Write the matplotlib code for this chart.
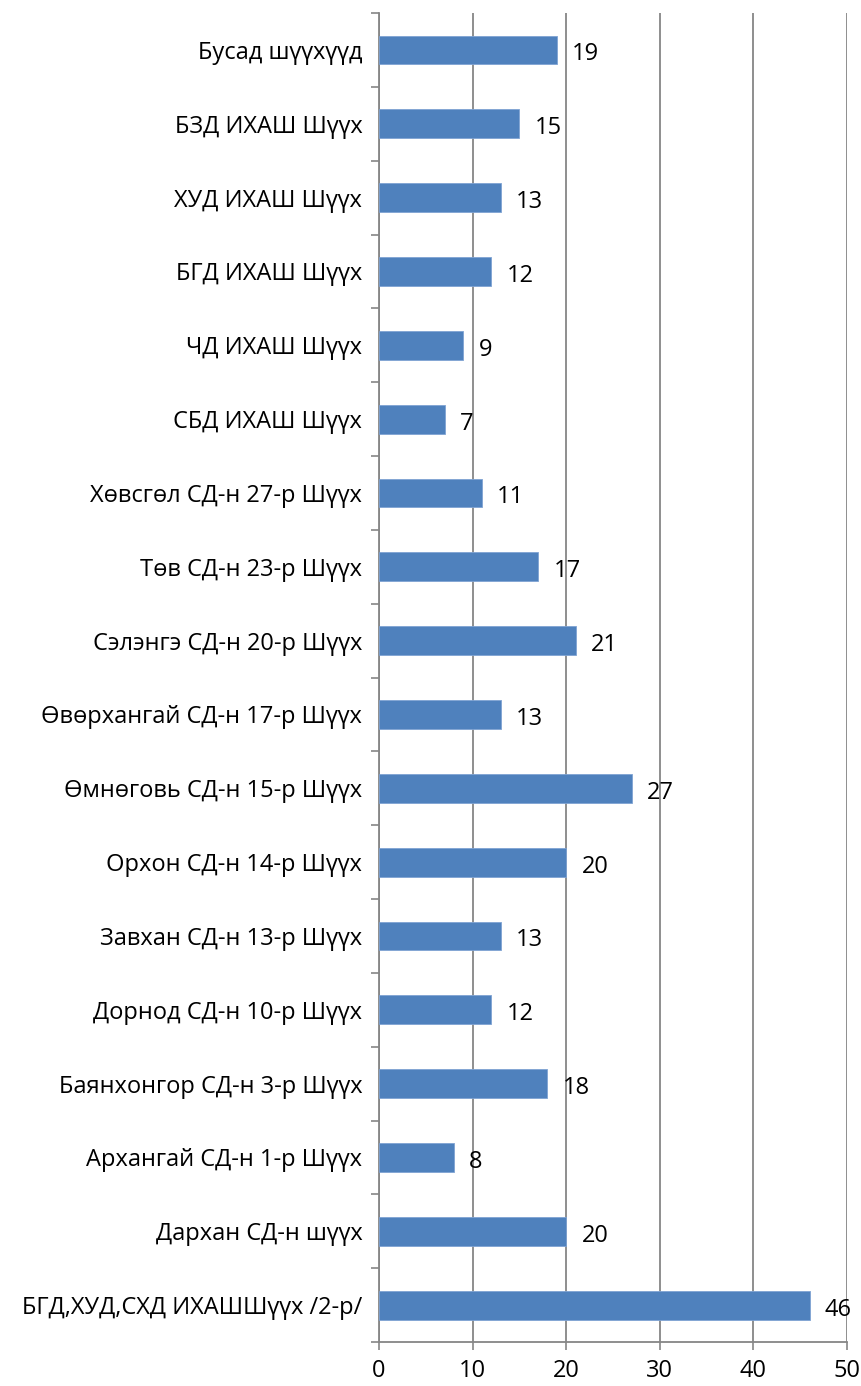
import matplotlib
matplotlib.use("Agg")
import matplotlib.pyplot as plt
import numpy as np

plt.rcParams['font.family'] = ['Open Sans', 'DejaVu Sans']

# bottom to top, as in the chart
courts = [
    "БГД,ХУД,СХД ИХАШШүүх /2-р/",
    "Дархан СД-н шүүх",
    "Архангай СД-н 1-р Шүүх",
    "Баянхонгор СД-н 3-р Шүүх",
    "Дорнод СД-н 10-р Шүүх",
    "Завхан СД-н 13-р Шүүх",
    "Орхон СД-н 14-р Шүүх",
    "Өмнөговь СД-н 15-р Шүүх",
    "Өвөрхангай СД-н 17-р Шүүх",
    "Сэлэнгэ СД-н 20-р Шүүх",
    "Төв СД-н 23-р Шүүх",
    "Хөвсгөл СД-н 27-р Шүүх",
    "СБД ИХАШ Шүүх",
    "ЧД ИХАШ Шүүх",
    "БГД ИХАШ Шүүх",
    "ХУД ИХАШ Шүүх",
    "БЗД ИХАШ Шүүх",
    "Бусад шүүхүүд",
]
counts = [46, 20, 8, 18, 12, 13, 20, 27, 13, 21, 17, 11, 7, 9, 12, 13, 15, 19]
x_ticks = [0, 10, 20, 30, 40, 50]

grey = "#868686"
fs = 17
fig = plt.figure(figsize=(8.61, 13.86), dpi=100)
ax = fig.add_axes([0.4402, 0.0317, 0.9837 - 0.4402, 0.9906 - 0.0317])

y = np.arange(len(courts))
bars = ax.barh(y, counts, height=0.39, color="#4F81BD", edgecolor="#7FA3D3",
               linewidth=0.6, zorder=3)
for rect, v in zip(bars, counts):
    ax.annotate(str(v), (rect.get_width(), rect.get_y() + rect.get_height() / 2),
                xytext=(11, -1), textcoords="offset points",
                ha="left", va="center_baseline", fontsize=fs, color="black", zorder=4)

ax.set_xlim(0, 50)
ax.set_ylim(-0.5, len(courts) - 0.5)
ax.set_xticks(x_ticks)
ax.set_yticks(y)
ax.set_yticklabels(courts, fontsize=fs, va="center_baseline")
ax.set_yticks(np.arange(-0.5, len(courts), 1.0), minor=True)
ax.tick_params(axis="y", which="major", length=0, pad=12)
ax.tick_params(axis="y", which="minor", length=6, width=1.2, color=grey, direction="out")
ax.tick_params(axis="x", length=6, width=1.2, color=grey, labelsize=fs, pad=6)

ax.xaxis.grid(True, color=grey, linewidth=1.3, zorder=0)
ax.set_axisbelow(True)
for side in ("top", "right"):
    ax.spines[side].set_visible(False)
for side in ("left", "bottom"):
    ax.spines[side].set_color(grey)
    ax.spines[side].set_linewidth(1.3)

fig.savefig("out.png", dpi=100)
